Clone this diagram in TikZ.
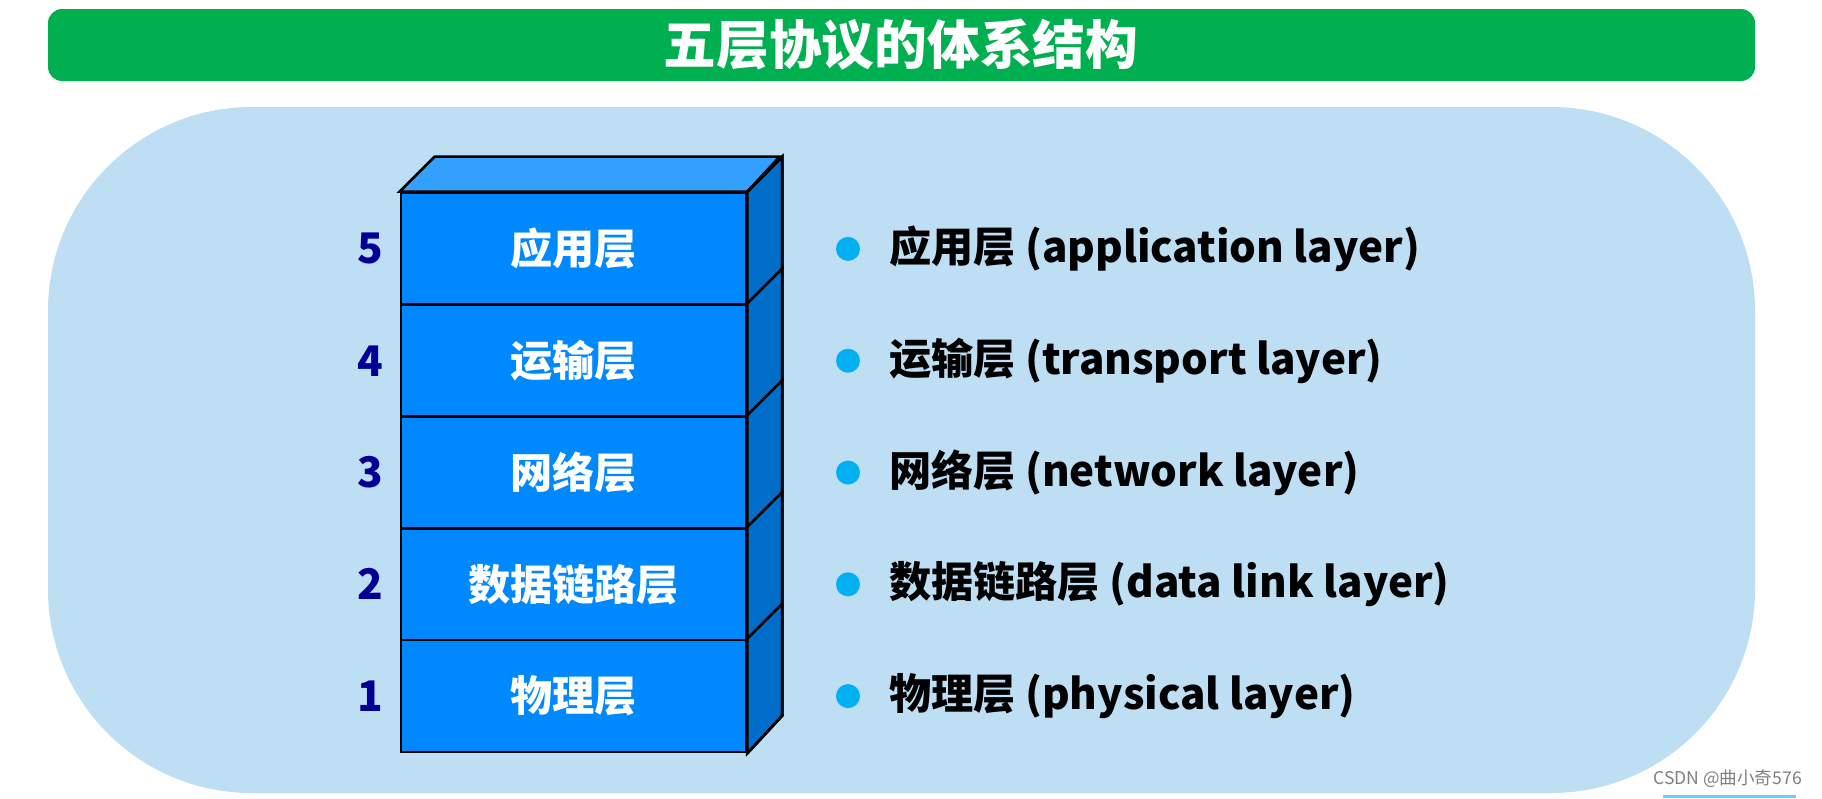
\documentclass[tikz,border=0pt]{standalone}
\usepackage{fontspec}
\setmainfont{Noto Sans CJK SC}
\usetikzlibrary{positioning}
\definecolor{banner}{RGB}{0,176,80}
\definecolor{panel}{RGB}{190,222,243}
\definecolor{front}{RGB}{0,136,255}
\definecolor{topface}{RGB}{51,160,255}
\definecolor{sideface}{RGB}{0,110,200}
\definecolor{numblue}{RGB}{0,0,150}
\definecolor{dot}{RGB}{0,176,240}
\tikzset{%
    layer box/.style={%
        draw=black, line width=1.5pt, fill=front,
        minimum width=6.9cm, minimum height=2.24cm,
        inner sep=0pt, text=white,
        font=\fontsize{24}{28}\selectfont\bfseries
    },
    layer num/.style={text=numblue, font=\fontsize{24}{28}\selectfont\bfseries},
    layer dot/.style={circle, fill=dot, minimum size=0.48cm, inner sep=0pt},
    layer text/.style={anchor=west, font=\fontsize{24}{28}\selectfont\bfseries}
}
\begin{document}
\begin{tikzpicture}[x=0.02cm, y=-0.02cm]
\useasboundingbox (0,0) rectangle (1822,798);
\fill[white] (0,0) rectangle (1822,798);
% title bar
\fill[banner, rounded corners=8] (48,9) rectangle (1755,81);
\node[text=white, font=\fontsize{30}{34}\selectfont\bfseries] (title) at (901,45) {五层协议的体系结构};
% background panel
\fill[panel, rounded corners=116] (48,107) rectangle (1755,793);
% stack of layers
\foreach \n/\lbl/\txt [count=\i] in {5/应用层/application layer,
    4/运输层/transport layer, 3/网络层/network layer,
    2/数据链路层/data link layer, 1/物理层/physical layer} {
    \node[layer box] (L\n) at (573.5,{193+(\i-0.5)*111.8}) {\lbl};
    \node[layer num, left=0.2cm of L\n] (N\n) {\n};
    \node[layer dot] (D\n) at (848,{193+(\i-0.5)*111.8}) {};
    \node[layer text, right=0.45cm of D\n] (T\n) {\lbl\ (\txt)};
    \draw[line width=1.5pt, fill=sideface] (L\n.north east) -- ++(35,-35) -- ++(0,111.8) -- (L\n.south east) -- cycle;
}
\draw[line width=1.5pt, fill=topface] (L5.north west) -- ++(35,-35) -- ++(345,0) -- (L5.north east) -- cycle;
\draw[line width=1.5pt] (L5.north east) -- ++(35,-35) -- ++(0,559) -- (L1.south east);
% watermark
\node[anchor=east, text=gray, font=\fontsize{10}{12}\selectfont] (mark) at (1808,779) {CSDN @曲小奇576};
\fill[dot!60] (1663,795) rectangle (1796,798);
\end{tikzpicture}
\end{document}
